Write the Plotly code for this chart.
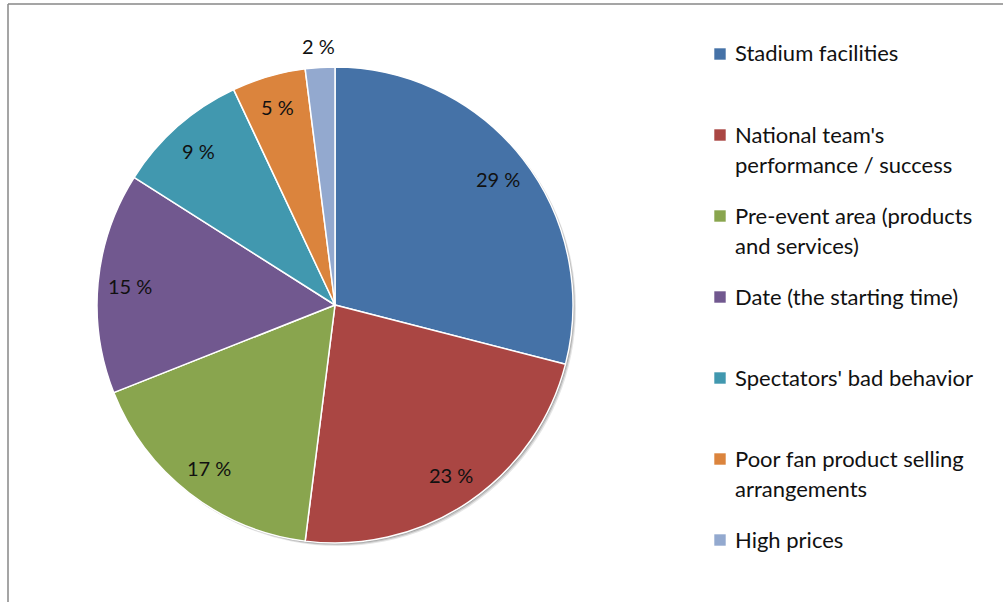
import math
import plotly.graph_objects as go

# Factors reported by spectators (share of responses, %)
categories = [
    "Stadium facilities",
    "National team's<br>performance / success",
    "Pre-event area (products<br>and services)",
    "Date (the starting time)",
    "Spectators' bad behavior",
    "Poor fan product selling<br>arrangements",
    "High prices",
]
shares = [29, 23, 17, 15, 9, 5, 2]
colors = ["#4572A7", "#AA4643", "#89A54E", "#71588F", "#4198AF", "#DB843D", "#93A9CF"]

W, H = 1003, 602
FONT = "Lato"
TEXT_COLOR = "#111111"

# pie placement in pixels
cx, cy, rad = 335, 305, 238

fig = go.Figure()

fig.add_trace(go.Pie(
    labels=[c.replace("<br>", " ") for c in categories],
    values=shares,
    marker=dict(colors=colors, line=dict(color="white", width=1.5)),
    sort=False,
    direction="clockwise",
    rotation=0,
    textinfo="none",
    hoverinfo="label+percent",
    showlegend=False,
    domain=dict(x=[(cx - rad) / W, (cx + rad) / W],
                y=[1 - (cy + rad) / H, 1 - (cy - rad) / H]),
))

def px(x):
    return x / W

def py(y):
    return 1 - y / H

shapes = []
annotations = []

# soft drop shadow behind the pie
for off, op in [(3, 0.10), (2, 0.15), (1, 0.20)]:
    shapes.append(dict(
        type="circle", xref="paper", yref="paper", layer="below",
        x0=px(cx - rad + off), x1=px(cx + rad + off),
        y0=py(cy + rad + off), y1=py(cy - rad + off),
        fillcolor=f"rgba(0,0,0,{op})", line=dict(width=0),
    ))

# percentage labels placed along each slice's mid-angle
total = sum(shares)
cum = 0
for v in shares:
    mid = (cum + v / 2) / total * 2 * math.pi
    cum += v
    r = rad * (1.09 if v / total < 0.03 else 0.865)
    lx = cx + r * math.sin(mid)
    ly = cy - r * math.cos(mid)
    annotations.append(dict(
        x=px(lx), y=py(ly), xref="paper", yref="paper",
        text=f"{v} %", showarrow=False,
        font=dict(family=FONT, size=20, color=TEXT_COLOR),
        xanchor="center", yanchor="middle",
    ))

# legend: coloured squares with wrapped labels
leg_x_box, leg_x_text = 714, 733
leg_y0, leg_step, line_h = 53, 81, 30
box = 12
for i, (lab, col) in enumerate(zip(categories, colors)):
    y = leg_y0 + i * leg_step
    shapes.append(dict(
        type="rect", xref="paper", yref="paper",
        x0=px(leg_x_box), x1=px(leg_x_box + box),
        y0=py(y + 1 + box / 2), y1=py(y + 1 - box / 2),
        fillcolor=col, line=dict(color="rgba(255,255,255,0.6)", width=1),
    ))
    for j, line in enumerate(lab.split("<br>")):
        annotations.append(dict(
            x=px(leg_x_text), y=py(y + j * line_h), xref="paper", yref="paper",
            text=line, showarrow=False,
            font=dict(family=FONT, size=22, color=TEXT_COLOR),
            xanchor="left", yanchor="middle",
        ))

# chart frame (top and left edges visible)
frame = dict(color="#878787", width=1.5)
shapes.append(dict(type="line", xref="paper", yref="paper",
                   x0=px(8), x1=1.0, y0=py(4), y1=py(4), line=frame))
shapes.append(dict(type="line", xref="paper", yref="paper",
                   x0=px(8), x1=px(8), y0=py(4), y1=0.0, line=frame))

fig.update_layout(
    width=W, height=H,
    margin=dict(l=0, r=0, t=0, b=0),
    paper_bgcolor="white",
    plot_bgcolor="white",
    shapes=shapes,
    annotations=annotations,
    font=dict(family=FONT),
)

fig.write_html("out.html")
